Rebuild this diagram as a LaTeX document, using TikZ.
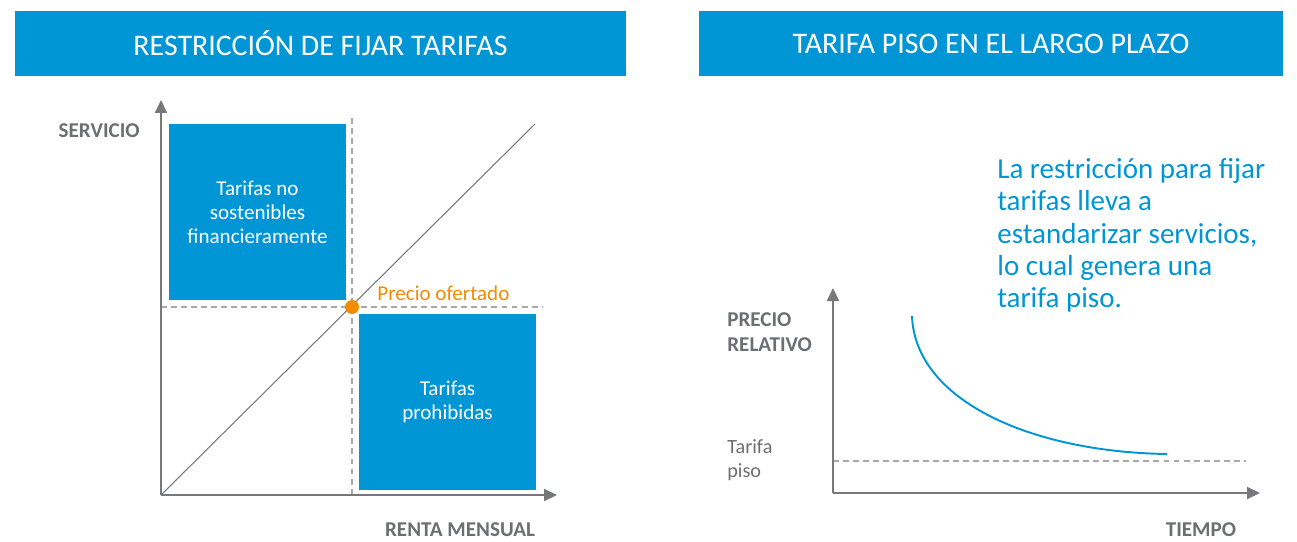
\documentclass[tikz,border=0pt]{standalone}
\usepackage{fontspec}
\setmainfont{Carlito}
\usetikzlibrary{arrows.meta, positioning, calc}

\definecolor{tarifablue}{RGB}{0,150,214}
\definecolor{axisgray}{RGB}{119,120,123}
\definecolor{dashgray}{RGB}{167,169,172}
\definecolor{labelgray}{RGB}{109,110,113}
\definecolor{ofertaorange}{RGB}{242,140,0}

\begin{document}
\begin{tikzpicture}[x=0.02cm, y=-0.02cm,
    header/.style={fill=tarifablue, text=white, minimum height=1.3cm, inner sep=0pt, font=\fontsize{17}{20}\selectfont},
    zonebox/.style={fill=tarifablue, text=white, minimum width=3.54cm, minimum height=3.52cm, inner sep=0pt, align=center, font=\fontsize{12}{13.6}\selectfont},
    axislabel/.style={text=labelgray, inner sep=0pt, font=\fontsize{12}{14}\selectfont\bfseries},
    axisline/.style={draw=axisgray, line width=1.1pt, -{Triangle[length=0.26cm, width=0.24cm]}},
    guide/.style={draw=dashgray, line width=0.9pt, dash pattern=on 3.4pt off 2.3pt}]
      \useasboundingbox (0,0) rectangle (1297,541);

      % encabezados
      \node[header, minimum width=12.22cm] (tituloA) at (320.5,43.5) {RESTRICCIÓN DE FIJAR TARIFAS};
      \node[header, minimum width=11.68cm] (tituloB) at (991,43.5) {TARIFA PISO EN EL LARGO PLAZO};

      % grafico de la izquierda
      \coordinate (origA) at (161,495);
      \coordinate (ytopA) at (161,100);
      \coordinate (xendA) at (557,495);
      \coordinate (diagA) at (535,124);
      \coordinate (vtopA) at (352,118);
      \coordinate (vbotA) at (352,495);
      \coordinate (hlefA) at (161,307);
      \coordinate (hrigA) at (543,307);

      \node[zonebox] (nosost) at (257.5,212) {Tarifas no\\sostenibles\\financieramente};
      \node[zonebox] (prohib) at (447.5,402) {Tarifas\\prohibidas};

      \draw[guide] (vtopA) -- (vbotA);
      \draw[guide] (hlefA) -- (hrigA);
      \draw[axisgray, line width=0.6pt] (origA) -- (diagA);
      \draw[axisline] (origA) -- (ytopA);
      \draw[axisline] (origA) -- (xendA);

      \node[circle, fill=ofertaorange, minimum size=0.28cm, inner sep=0pt] (oferta) at (352,307) {};
      \node[anchor=west, text=ofertaorange, inner sep=0pt, font=\fontsize{12}{14}\selectfont] (ofertalbl) at (377,293) {Precio ofertado};

      \node[axislabel, anchor=east] (servicio) at (140,131) {SERVICIO};
      \node[axislabel] (renta) at (460,530) {RENTA MENSUAL};

      % grafico de la derecha
      \coordinate (origB) at (833,493);
      \coordinate (ytopB) at (833,288);
      \coordinate (xendB) at (1260,493);
      \coordinate (pisoL) at (833,461);
      \coordinate (pisoR) at (1246,461);
      \coordinate (curvA) at (912,316);
      \coordinate (curvB) at (1167,454);

      \draw[guide] (pisoL) -- (pisoR);
      \draw[axisline] (origB) -- (ytopB);
      \draw[axisline] (origB) -- (xendB);
      \draw[tarifablue, line width=1.1pt] (curvA) .. controls (915,400) and (1030,452) .. (curvB);

      \node[axislabel, anchor=west, align=left] (precio) at (727,332) {PRECIO\\RELATIVO};
      \node[text=labelgray, inner sep=0pt, anchor=west, align=left, font=\fontsize{11.5}{13.6}\selectfont] (piso) at (727,460) {Tarifa\\piso};
      \node[axislabel] (tiempo) at (1201,530) {TIEMPO};

      \node[text=tarifablue, anchor=north west, align=left, inner sep=0pt, font=\fontsize{16.5}{18.4}\selectfont] (nota) at (997,158) {La restricción para fijar\\tarifas lleva a\\estandarizar servicios,\\lo cual genera una\\tarifa piso.};

    \end{tikzpicture}
\end{document}
